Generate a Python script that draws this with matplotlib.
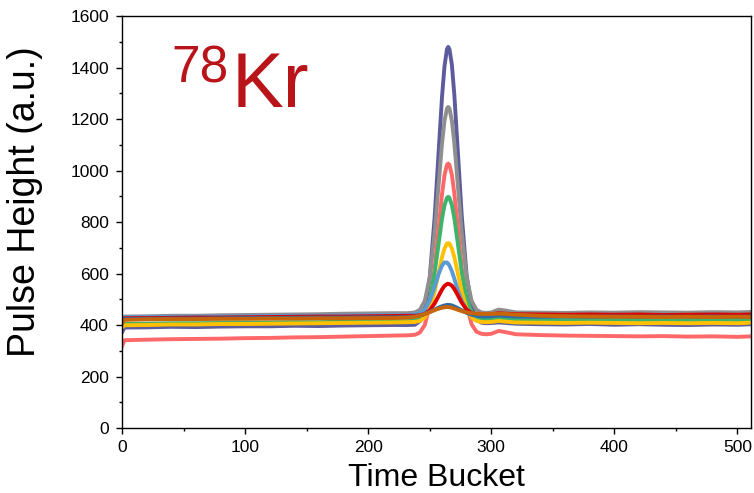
import matplotlib.pyplot as plt
from matplotlib.ticker import MultipleLocator

# time buckets where each trace was sampled
bucket = [0, 2, 20, 40, 60, 80, 100, 120, 140, 160, 180, 200, 220, 232,
          238, 242, 246, 250, 254, 257, 260, 262, 264, 265, 266, 268, 270,
          273, 276, 280, 284, 288, 292, 296, 300, 306, 312, 320,
          340, 360, 380, 400, 420, 440, 460, 480, 500, 511]

slate = [372, 390, 391, 393, 392, 394, 395, 395, 397, 396, 398, 399, 400, 400,
         401, 415, 463, 584, 818, 1054, 1287, 1405, 1471, 1480, 1472, 1411, 1294,
         1061, 826, 592, 471, 423, 409, 407, 408, 410, 408, 405,
         403, 402, 404, 401, 403, 401, 400, 402, 401, 403]
gray = [420, 433, 434, 436, 436, 438, 439, 440, 441, 442, 444, 445, 446, 446,
        449, 459, 494, 584, 758, 932, 1105, 1193, 1241, 1247, 1241, 1193, 1106,
        933, 759, 585, 494, 459, 449, 447, 449, 460, 456, 449,
        448, 447, 449, 448, 450, 449, 448, 450, 449, 451]
salmon = [318, 341, 343, 345, 346, 347, 349, 350, 352, 353, 355, 357, 359, 360,
          362, 371, 400, 475, 619, 765, 909, 982, 1022, 1027, 1022, 983, 911,
          768, 622, 478, 403, 374, 366, 364, 366, 377, 372, 364,
          361, 359, 358, 357, 356, 357, 355, 356, 354, 356]
green = [395, 404, 405, 407, 407, 408, 409, 410, 411, 411, 413, 414, 415, 415,
         417, 423, 444, 498, 603, 708, 813, 865, 894, 898, 894, 866, 815,
         711, 607, 503, 449, 428, 422, 421, 422, 428, 425, 421,
         420, 419, 420, 419, 420, 418, 419, 420, 419, 421]
yellow = [390, 399, 400, 402, 402, 404, 404, 405, 406, 407, 408, 409, 410, 411,
          412, 416, 429, 464, 530, 597, 664, 697, 716, 718, 716, 697, 664,
          597, 530, 464, 429, 416, 412, 411, 412, 416, 413, 410,
          409, 408, 409, 408, 407, 408, 407, 408, 407, 409]
lightblue = [418, 430, 431, 432, 433, 433, 434, 435, 436, 436, 437, 438, 438, 439,
             441, 446, 460, 494, 548, 595, 631, 643, 643, 638, 631, 609, 580,
             533, 494, 460, 446, 441, 439, 439, 440, 445, 442, 440,
             439, 438, 440, 439, 440, 438, 439, 440, 438, 440]
red = [415, 426, 427, 428, 429, 429, 430, 431, 432, 433, 433, 434, 435, 436,
       436, 438, 443, 457, 484, 511, 538, 552, 559, 560, 559, 553, 540,
       514, 487, 460, 446, 441, 441, 441, 442, 446, 444, 442,
       441, 440, 441, 440, 441, 439, 440, 441, 440, 441]
darkblue = [412, 423, 424, 425, 425, 426, 427, 427, 428, 429, 429, 430, 430, 431,
            433, 437, 443, 451, 460, 467, 473, 476, 478, 478, 478, 476, 472,
            465, 457, 447, 440, 436, 434, 433, 434, 437, 435, 433,
            432, 433, 432, 433, 432, 433, 432, 433, 432, 433]
orange = [405, 420, 422, 423, 423, 424, 424, 425, 425, 426, 426, 427, 427, 429,
          432, 437, 443, 450, 458, 463, 467, 469, 470, 470, 469, 467, 464,
          459, 454, 449, 446, 444, 443, 443, 443, 444, 443, 440,
          436, 434, 433, 432, 432, 431, 432, 431, 432, 431]

traces = [slate, gray, salmon, green, yellow, lightblue, red, darkblue, orange]
colors = ['#5c5c9c', '#8f8f8f', '#ff6868', '#3db46b', '#ffc000',
          '#5b9bd5', '#dd0000', '#2e6aa8', '#c8650a']

plt.rcParams['font.family'] = ['Liberation Sans', 'DejaVu Sans']

fig = plt.figure(figsize=(7.54, 4.93), dpi=100)
ax = fig.add_axes([0.1618, 0.1318, 0.8342, 0.8357])

for y, c in zip(traces, colors):
    ax.plot(bucket, y, color=c, lw=2.8, solid_joinstyle='round')

ax.set_xlim(0, 511)
ax.set_ylim(0, 1600)
ax.xaxis.set_major_locator(MultipleLocator(100))
ax.xaxis.set_minor_locator(MultipleLocator(50))
ax.yaxis.set_major_locator(MultipleLocator(200))
ax.yaxis.set_minor_locator(MultipleLocator(100))
ax.tick_params(which='both', direction='out', width=1.0, labelsize=12.5)
ax.tick_params(which='major', length=4.5)
ax.tick_params(which='minor', length=2.3)
ax.tick_params(axis='y', pad=5)
ax.tick_params(axis='x', pad=4)
for s in ax.spines.values():
    s.set_linewidth(1.0)

ax.set_xlabel('Time Bucket', fontsize=23)
ax.set_ylabel('Pulse Height (a.u.)', fontsize=27)
# label positions in axes fraction
ax.xaxis.set_label_coords(0.5, -0.085)
ax.yaxis.set_label_coords(-0.125, 0.55)

# isotope label
ax.text(40, 1340, '78', color='#b81419', fontsize=37, ha='left', va='baseline')
ax.text(89, 1247, 'Kr', color='#b81419', fontsize=56, ha='left', va='baseline')

fig.savefig('out.png', dpi=100)
